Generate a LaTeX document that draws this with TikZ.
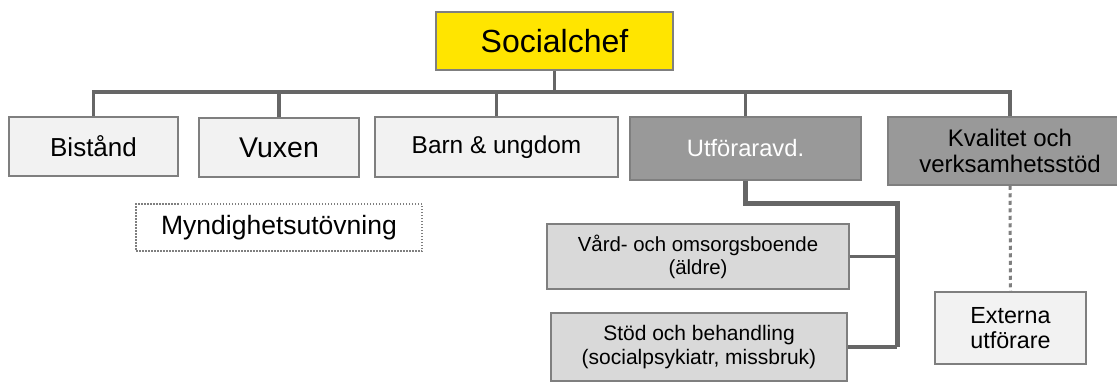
\documentclass[tikz,border=0pt]{standalone}
\usepackage{fontspec}
\setmainfont{Liberation Sans}

\definecolor{linegray}{HTML}{666666}
\definecolor{boxline}{HTML}{7F7F7F}
\definecolor{chefyellow}{HTML}{FFE500}
\definecolor{lightbox}{HTML}{F2F2F2}
\definecolor{midbox}{HTML}{D9D9D9}
\definecolor{darkbox}{HTML}{999999}

\begin{document}
\begin{tikzpicture}[x=1pt, y=-1pt,
  orgbox/.style={draw=boxline, line width=1.5pt, inner sep=0pt, align=center},
  link/.style={draw=linegray, line width=3.8pt},
  heavylink/.style={draw=linegray, line width=5pt},
  dotlink/.style={draw=boxline, line width=3pt, dash pattern=on 4pt off 3.5pt}]
\useasboundingbox (0,0) rectangle (1117,381);

% ledning
\node[orgbox, fill=chefyellow, minimum width=237pt, minimum height=58pt, font=\fontsize{32}{36}\selectfont] (chef) at (554.5,41) {Socialchef};

% avdelningar
\node[orgbox, fill=lightbox, minimum width=169pt, minimum height=59pt, font=\fontsize{26}{29}\selectfont] (bistand) at (93.5,146.5) {Bistånd};
\node[orgbox, fill=lightbox, minimum width=160pt, minimum height=59pt, font=\fontsize{28.5}{32}\selectfont] (vuxen) at (279,147.5) {Vuxen};
\node[orgbox, fill=lightbox, minimum width=243pt, minimum height=60pt, font=\fontsize{24.4}{27}\selectfont] (barn) at (496.5,147) {Barn \& ungdom};
\node[orgbox, fill=darkbox, text=white, minimum width=231pt, minimum height=63pt, font=\fontsize{23.7}{27}\selectfont] (utfor) at (745.5,148.5) {Utföraravd.};
\node[orgbox, fill=darkbox, minimum width=244pt, minimum height=68pt, font=\fontsize{24}{26.5}\selectfont] (kval) at (1010,151) {Kvalitet och\\verksamhetsstöd};

\node[orgbox, draw=boxline, dash pattern=on 1.5pt off 1.5pt, minimum width=286pt, minimum height=47pt, font=\fontsize{26.5}{30}\selectfont] (myndig) at (279,227.5) {Myndighetsutövning};

% utforare
\node[orgbox, fill=midbox, minimum width=302pt, minimum height=65pt, font=\fontsize{20.4}{22.8}\selectfont] (vard) at (698,256.5) {Vård- och omsorgsboende\\(äldre)};
\node[orgbox, fill=midbox, minimum width=296pt, minimum height=68pt, font=\fontsize{21}{23.3}\selectfont] (stod) at (699,347) {Stöd och behandling\\(socialpsykiatr, missbruk)};
\node[orgbox, fill=lightbox, minimum width=151pt, minimum height=72pt, font=\fontsize{23.3}{25.5}\selectfont] (ext) at (1010.5,328) {Externa\\utförare};

% linjer
\coordinate (bus) at (0,92);
\coordinate (spine) at (897,203);
\draw[link] (bistand.north) |- (bus -| utfor.north) -- (utfor.north);
\draw[link] (vuxen.north) -- (vuxen.north |- bus);
\draw[link] (barn.north) -- (barn.north |- bus);
\draw[link] (chef.south) -- (chef.south |- bus);
\draw[link, line width=3.3pt] (bus -| utfor.north) -| (kval.north);

\draw[heavylink] (utfor.south) |- (spine) -- (spine |- stod.east);
\draw[link] (vard.east) -- (vard.east -| spine);
\draw[link] (stod.east) -- (stod.east -| spine);

\draw[dotlink] (kval.south) -- (ext.north);

\end{tikzpicture}
\end{document}
